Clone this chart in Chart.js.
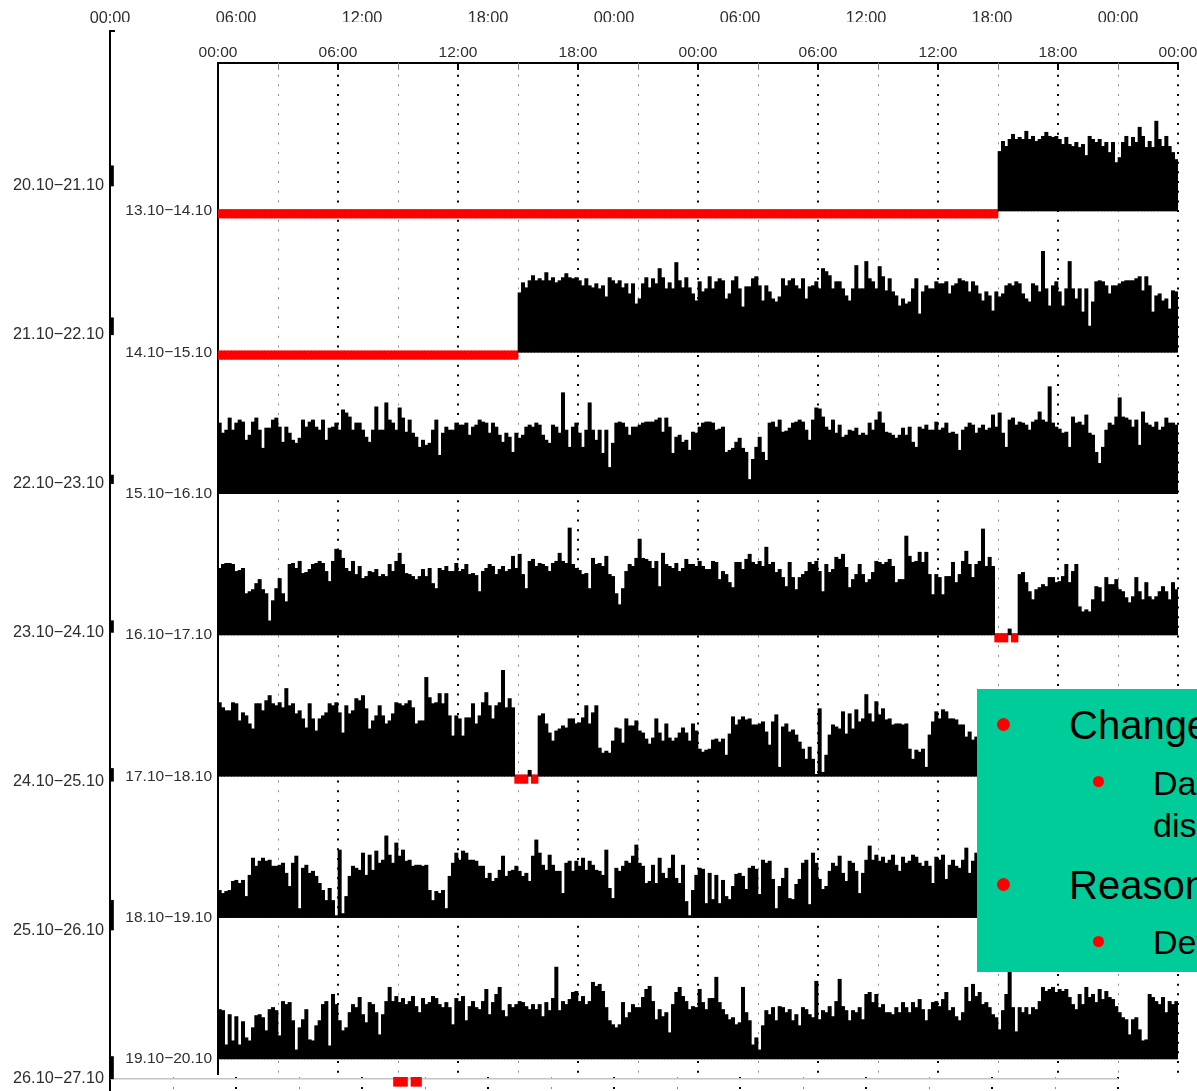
<!DOCTYPE html>
<html lang="en">
<head>
<meta charset="UTF-8">
<title>Actogram 13.10 - 20.10</title>
<script src="https://cdn.jsdelivr.net/npm/chart.js@4.4.1/dist/chart.umd.min.js"></script>
<style>
  body { margin: 0; width: 1197px; height: 1091px; overflow: hidden; position: relative; background: #fff; }
  #outerBox { position: absolute; left: 0; top: 0; }
  #innerBox { position: absolute; left: 115px; top: 22px; background: #fff; }
  #note { position: absolute; left: 977px; top: 689px; width: 240px; height: 283px; background: #00cc99;
          font-family: 'Liberation Sans', Arial, sans-serif; color: #000; }
  .dot { position: absolute; border-radius: 50%; background: #ff0000; }
  .txt { position: absolute; white-space: nowrap; }
  .l1 { font-size: 40px; line-height: 40px; }
  .l2 { font-size: 34px; line-height: 34px; }
</style>
</head>
<body>
<div id="outerBox"><canvas id="outer" width="1197" height="1100"></canvas></div>
<div id="innerBox"><canvas id="inner" width="1082" height="1055"></canvas></div>

<!-- slide text box lying over the chart -->
<div id="note">
  <div class="dot" style="left:20px;top:29px;width:13px;height:13px"></div>
  <div class="txt l1" style="left:92px;top:16px">Changes</div>
  <div class="dot" style="left:116px;top:87px;width:11px;height:11px"></div>
  <div class="txt l2" style="left:176px;top:77px">Data</div>
  <div class="txt l2" style="left:176px;top:119px">display</div>
  <div class="dot" style="left:20px;top:189px;width:13px;height:13px"></div>
  <div class="txt l1" style="left:92px;top:176px">Reasons</div>
  <div class="dot" style="left:116px;top:247px;width:11px;height:11px"></div>
  <div class="txt l2" style="left:176px;top:236px">Device</div>
</div>

<script>
// days of the recording, each row shows day i and day i+1
const days = ['13.10', '14.10', '15.10', '16.10', '17.10', '18.10', '19.10', '20.10'];
const timeLabels = ['00:00', '06:00', '12:00', '18:00', '00:00', '06:00', '12:00', '18:00', '00:00'];

// activity per 10 min bin, null = no signal
const act13 = [];
const act14 = [59,69,64,71,76,71,73,71,79,71,74,69,71,74,78,74,73,74,71,66,73,66,64,68,63,66,55,74,71,68,
  71,64,68,58,68,48,53,68,74,64,73,68,83,74,63,69,63,89,71,64,74,64,58,51];
const act15 = [70,60,63,75,63,70,73,71,53,58,71,75,63,45,65,65,73,75,66,51,66,60,53,50,55,73,66,71,73,66,
  63,73,53,65,66,70,63,83,80,76,63,70,70,63,56,51,63,86,63,63,90,73,70,63,85,75,61,73,60,56,
  46,53,48,50,63,73,38,60,66,63,63,70,68,68,70,58,66,68,73,71,70,60,70,66,58,51,60,56,41,60,
  55,58,66,68,66,70,68,58,53,50,68,66,60,100,63,46,66,70,60,46,63,90,63,53,63,40,63,26,50,70,
  71,70,66,58,66,66,68,70,71,71,71,73,75,61,75,66,40,56,58,51,53,43,61,60];
const act16 = [66,70,71,71,70,63,64,66,41,43,45,51,55,45,41,14,34,46,56,41,33,70,71,66,73,61,62,65,70,71,
  73,71,63,53,73,85,84,76,66,63,73,60,68,56,58,63,62,65,58,60,58,70,63,73,81,70,61,60,58,55,
  58,65,58,66,51,46,66,64,68,63,63,71,63,65,70,60,61,59,43,63,66,70,68,60,65,68,63,65,78,66,
  80,60,46,73,75,68,71,70,68,63,71,73,81,73,71,106,70,66,64,60,61,46,76,70,71,68,78,60,58,41,
  30,46,63,70,68,76,95,76,75,73,66,73,48,81,70,68,66,71,63,66,75,70,70,68];
const act17 = [73,68,65,65,73,72,55,63,60,52,47,72,72,65,75,80,72,70,73,68,87,70,72,62,65,57,48,72,57,45,
  57,60,63,72,70,73,63,43,70,62,65,77,75,80,67,47,55,60,70,60,52,55,62,73,72,70,72,75,68,52,
  55,55,98,78,72,73,82,72,82,60,40,60,57,40,58,58,72,52,60,73,83,70,57,70,73,105,68,77,68,null,
  null,null,null,6,null,null,60,62,52,43,35,45,47,50,48,57,57,52,53,58,70,52,63,70,28,23,25,23,35,48,
  47,33,57,50,50,55,45,43,37,32,38,57,43,35,52,38,35,38,43,48,43,35,52,45];
const act18 = [27,24,26,27,36,37,34,37,21,42,59,51,56,59,56,57,51,51,52,54,44,31,54,61,9,49,52,44,46,41,
  34,27,17,29,17,2,67,4,21,41,51,49,47,64,42,62,47,66,54,57,81,62,54,74,61,67,56,57,51,52,
  52,51,52,27,17,26,24,27,9,41,54,64,57,66,64,57,57,56,51,51,39,44,36,39,47,61,41,46,47,51,
  46,41,44,36,61,77,64,52,47,62,52,46,46,24,54,56,46,56,51,59,47,56,52,47,46,42,67,29,19,49,
  46,51,56,54,61,72,54,51,34,36,52,34,59,44,39,49,62,39,34,52,16,2,27,42];
const act19 = [49,48,14,44,18,42,14,37,21,18,31,43,44,41,28,49,51,48,23,57,54,56,38,9,31,39,49,19,18,33,
  38,54,57,13,64,54,38,28,31,46,54,51,61,44,36,56,54,46,24,44,57,71,57,62,56,60,54,57,62,52,
  46,60,54,56,62,60,54,51,56,51,34,60,57,62,38,52,57,51,49,57,69,44,56,64,71,48,42,54,51,54,
  57,56,52,49,54,49,54,42,56,48,60,91,48,57,54,59,66,67,57,62,54,57,76,72,74,67,51,38,34,31,
  34,56,41,46,54,51,51,61,69,72,57,39,49,42,46,26,54,66,71,62,57,49,52,51];
const act20 = [69,56,49,60,60,81,56,49,44,39,41,34,36,71,46,38,14,21,9,33,48,44,51,38,52,51,46,49,38,44,
  33,51,49,44,41,77,39,48,46,52,42,57,79,52,48,38,48,46,51,39,64,66,56,64,51,54,46,46,44,51,
  46,56,51,46,56,51,59,49,38,49,56,57,52,59,66,48,51,42,38,46,71,57,74,62,66,54,56,51,44,41,
  29,48,64,87,51,27,51,46,51,44,51,49,57,71,67,69,71,66,69,67,69,61,54,49,64,54,71,61,64,56,
  69,59,67,61,59,52,46,41,39,24,39,41,29,18,19,64,61,57,54,61,46,57,54,57];
const activity = [act13, act14, act15, act16, act17, act18, act19, act20];
const firstBin = [0, 90, 0, 0, 0, 0, 0, 0];

// the older plot lying behind, only its edge is visible
const outerDays = ['20.10', '21.10', '22.10', '23.10', '24.10', '25.10', '26.10', '27.10'];
const outerFirstBin = [19, 16, 8, 11, 12, 28, 21];
const outerMissingBins = [81, 82, 83, 84, 86, 87, 88];

const ROW = 140;
const BINS = 144;
const FONT = "'Liberation Sans', Arial, sans-serif";
const TXT = '#2e2e2e';

const rowLabels = days.slice(0, 7).map((d, i) => d + '\u2212' + days[i + 1]);
const outerLabels = outerDays.slice(0, 7).map((d, i) => d + '\u2212' + outerDays[i + 1]);

function dayValue(d, k) {
  const v = activity[d][k - firstBin[d]];
  return (k < firstBin[d] || v === undefined) ? null : v;
}

function rowBars(r, missing) {
  const base = -ROW * r;
  const pts = [];
  [0, 1].forEach(h => {
    for (let k = 0; k < BINS; k++) {
      const v = dayValue(r + h, k);
      const x = h * 24 + (k + 0.5) / 6;
      if (!missing && v !== null) pts.push({ x: x, y: [base, base + v] });
      if (missing && v === null) pts.push({ x: x, y: [base - 7, base + 1.5] });
    }
  });
  return pts;
}

const isMajor = c => c.tick && c.tick.value % 6 === 0;

// short solid tick marks pointing into the plot
const tickMarks = {
  id: 'tickMarks',
  afterDraw(chart) {
    const { ctx, chartArea, scales } = chart;
    scales.x.ticks.forEach(t => {
      const major = t.value % 6 === 0;
      const px = Math.round(scales.x.getPixelForValue(t.value)) + (major ? 0 : 0.5);
      ctx.save();
      ctx.strokeStyle = major ? '#000' : '#888';
      ctx.lineWidth = major ? 2 : 1;
      ctx.beginPath();
      ctx.moveTo(px, chartArea.top);
      ctx.lineTo(px, chartArea.top + 7);
      ctx.stroke();
      ctx.restore();
    });
  }
};

function axisOptions(o) {
  return {
    x: {
      type: 'linear', position: 'top', min: 0, max: 48, offset: false,
      afterFit: s => { s.height = o.top; s.paddingLeft = 0; s.paddingRight = 0; },
      ticks: {
        stepSize: 3, autoSkip: false, maxRotation: 0, padding: o.xPad, color: TXT,
        font: { family: FONT, size: o.font },
        callback: v => (v % 6 === 0 ? timeLabels[v / 6] : '')
      },
      grid: { offset: false, drawTicks: false, color: c => (isMajor(c) ? '#000' : '#8a8a8a'), lineWidth: c => (isMajor(c) ? 2 : 1) },
      border: { color: '#000', width: 2, dash: o.dash, dashOffset: o.dashOffset }
    },
    y: {
      type: 'linear', min: o.yMin, max: o.yMax,
      afterFit: s => { s.width = o.left; s.paddingTop = 0; s.paddingBottom = 0; },
      afterBuildTicks: s => { s.ticks = o.labels.map((_, i) => ({ value: -ROW * i })); },
      ticks: {
        autoSkip: false, padding: 6, color: TXT,
        font: { family: FONT, size: o.font },
        callback: (v, i) => o.labels[i]
      },
      grid: { display: false, drawTicks: false },
      border: { color: '#000', width: 2 }
    }
  };
}

const common = {
  responsive: false,
  animation: false,
  devicePixelRatio: 1,
  plugins: { legend: { display: false }, tooltip: { enabled: false } },
  datasets: { bar: { grouped: false, barPercentage: 1, categoryPercentage: 1, borderWidth: 0 } }
};

// background plot (20.10 - 27.10)
const outerSets = [
  {
    type: 'bar', backgroundColor: '#000',
    data: outerFirstBin.map((v, r) => ({ x: 1 / 12, y: [-ROW * r, -ROW * r + v] }))
  },
  {
    type: 'bar', backgroundColor: '#ff0000',
    data: outerMissingBins.map(k => ({ x: (k + 0.5) / 6, y: [-ROW * 6 - 7, -ROW * 6 + 1.5] }))
  },
  {
    type: 'line', borderColor: '#c4c4c4', borderWidth: 1.5, pointRadius: 0,
    data: [{ x: 0, y: -ROW * 6 }, { x: 48, y: -ROW * 6 }]
  }
];

new Chart(document.getElementById('outer'), {
  type: 'bar',
  data: { datasets: outerSets },
  options: Object.assign({}, common, {
    layout: { padding: { left: 0, top: 0, right: 79, bottom: 0 } },
    scales: axisOptions({ top: 31, left: 110, font: 16.3, xPad: 2.5, yMin: -859.9, yMax: 145.8,
      labels: outerLabels, dash: [2.1, 8.07], dashOffset: -7.4 })
  })
});

// main plot (13.10 - 20.10)
const innerSets = [];
rowLabels.forEach((_, r) => {
  innerSets.push({ data: rowBars(r, false), backgroundColor: '#000' });
  innerSets.push({ data: rowBars(r, true), backgroundColor: '#ff0000' });
});

new Chart(document.getElementById('inner'), {
  type: 'bar',
  data: { datasets: innerSets },
  options: Object.assign({}, common, {
    layout: { padding: { left: 0, top: 0, right: 19, bottom: 3 } },
    scales: axisOptions({ top: 41, left: 103, font: 15.5, xPad: 1, yMin: -854.9, yMax: 146.6,
      labels: rowLabels, dash: [2, 7.67], dashOffset: -1 })
  }),
  plugins: [tickMarks]
});
</script>
</body>
</html>
